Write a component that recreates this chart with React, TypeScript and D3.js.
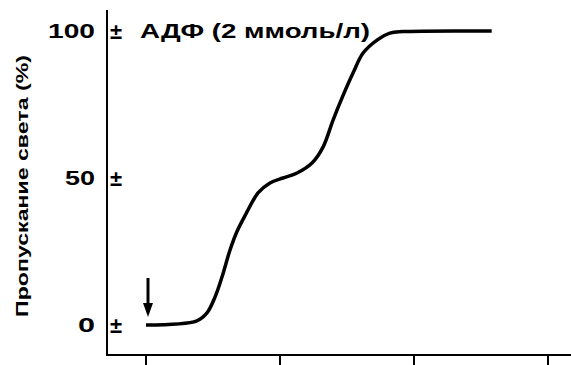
import React from "react";
import * as d3 from "d3";

// Time after ADP addition (arbitrary units, ticks at 0..3) and light transmission (%)
const timePoints = [0, 0.38, 0.455, 0.515, 0.567, 0.627, 0.679, 0.739, 0.836, 0.925, 1.022, 1.127, 1.239, 1.321, 1.396, 1.47, 1.545, 1.62, 1.724, 1.82, 1.918, 2.58];
const transmission = [0, 1.4, 4.1, 9.5, 16.3, 25.5, 31.8, 37.2, 44.9, 48.3, 50.0, 51.7, 55.1, 60.5, 69.7, 78.0, 85.7, 92.5, 96.9, 99.3, 99.8, 100];
const xTicks = [0, 1, 2, 3];
const yTicks = [0, 50, 100];
const yTickLabels = ["0", "50", "100"];
const title = "АДФ (2 ммоль/л)";
const yAxisLabel = "Пропускание света (%)";

const W = 571;
const H = 365;
const FONT = "Liberation Sans, Arial, sans-serif";

export default function App() {
  const x = d3.scaleLinear().domain([0, 3]).range([146, 548]);
  const y = d3.scaleLinear().domain([0, 100]).range([325, 31]);
  const axisX = 107;
  const axisY = 355;

  const data = timePoints.map((t, i) => [t, transmission[i]] as [number, number]);
  const line = d3
    .line<[number, number]>()
    .x((d) => x(d[0]))
    .y((d) => y(d[1]))
    .curve(d3.curveCatmullRom.alpha(0.5));

  const labelWidths: Record<string, number> = { "0": 17, "50": 30, "100": 47 };
  const arrowX = x(0) + 2;

  return (
    <svg
      width={W}
      height={H}
      style={{ position: "absolute", left: 0, top: 0, background: "#fff", fontFamily: FONT }}
    >
      {/* axes */}
      <line x1={axisX} y1={10} x2={axisX} y2={axisY + 1} stroke="#000" strokeWidth={2} />
      <line x1={axisX} y1={axisY} x2={W} y2={axisY} stroke="#000" strokeWidth={2} />
      {xTicks.map((t) => (
        <line key={t} x1={x(t)} y1={axisY} x2={x(t)} y2={H} stroke="#000" strokeWidth={2} />
      ))}

      {/* y ticks drawn as ± marks with value labels */}
      {yTicks.map((v, i) => (
        <g key={v}>
          <text
            x={95}
            y={y(v) + 7}
            textAnchor="end"
            fontSize={20}
            fontWeight="bold"
            fontFamily={FONT}
            textLength={labelWidths[yTickLabels[i]]}
            lengthAdjust="spacingAndGlyphs"
          >
            {yTickLabels[i]}
          </text>
          <text x={110} y={y(v) + 8} fontSize={22} fontWeight="bold" fontFamily={FONT}>
            ±
          </text>
        </g>
      ))}

      {/* title */}
      <text
        x={140}
        y={38}
        fontSize={21}
        fontWeight="bold"
        fontFamily={FONT}
        textLength={230}
        lengthAdjust="spacingAndGlyphs"
      >
        {title}
      </text>

      {/* y axis label */}
      <text
        transform={`translate(28, 186) rotate(-90)`}
        textAnchor="middle"
        fontSize={17}
        fontWeight="bold"
        fontFamily={FONT}
        textLength={262}
        lengthAdjust="spacingAndGlyphs"
      >
        {yAxisLabel}
      </text>

      {/* ADP addition arrow */}
      <line x1={arrowX} y1={278} x2={arrowX} y2={305} stroke="#000" strokeWidth={3} />
      <path
        d={`M${arrowX - 5},${303} L${arrowX + 5},${303} L${arrowX},${317} Z`}
        fill="#000"
      />

      {/* aggregation curve */}
      <path d={line(data) || ""} fill="none" stroke="#000" strokeWidth={3.5} strokeLinejoin="round" />
    </svg>
  );
}
